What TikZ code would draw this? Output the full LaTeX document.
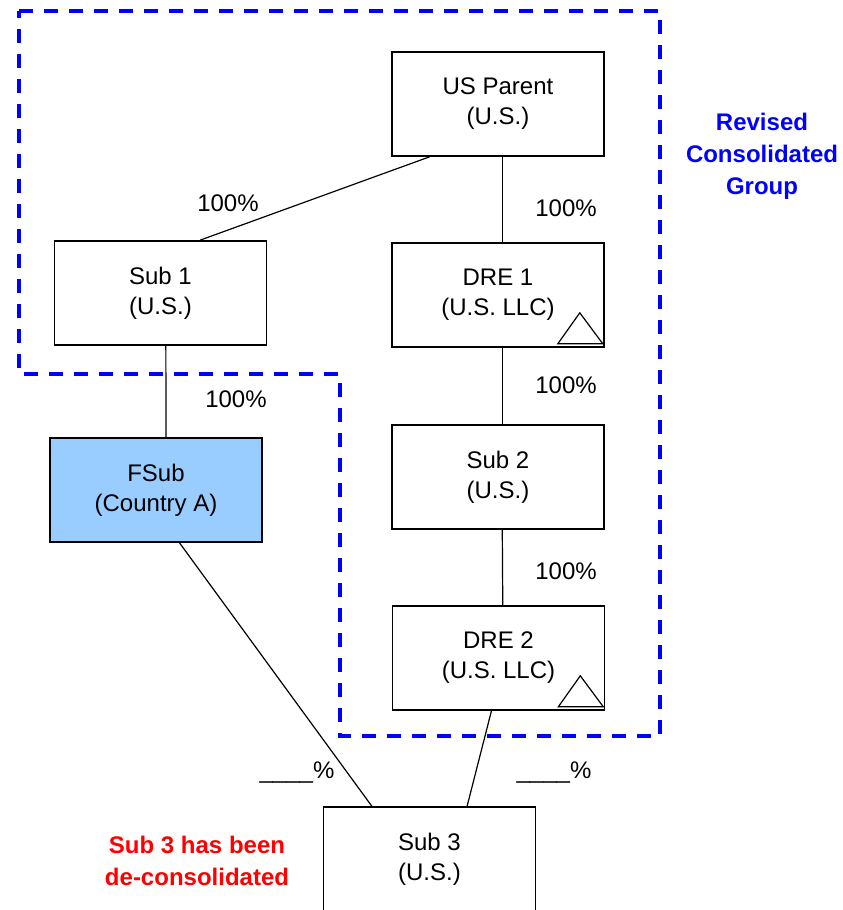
\documentclass[tikz,border=0pt]{standalone}
\usepackage{fontspec}
\setmainfont{Liberation Sans}
\usetikzlibrary{calc}
\definecolor{fsubblue}{HTML}{99CCFF}
\definecolor{grpblue}{HTML}{0000FF}
\definecolor{notered}{HTML}{FF0000}
\begin{document}
\begin{tikzpicture}[x=0.5pt,y=-0.5pt,
  entity/.style={draw,line width=0.8pt,fill=white,minimum width=106pt,minimum height=52pt,inner sep=0pt,align=center,font=\fontsize{12}{15}\selectfont},
  link/.style={line width=0.6pt},
  pct/.style={inner sep=0pt,font=\fontsize{12}{15}\selectfont},
  grpline/.style={draw=grpblue,line width=2pt,dash pattern=on 7pt off 5.5pt},
  grplabel/.style={align=center,text=grpblue,font=\bfseries\fontsize{12}{16}\selectfont},
  redlabel/.style={align=center,text=notered,font=\bfseries\fontsize{12}{16}\selectfont},
  flag/.style={draw,line width=0.6pt}]
\useasboundingbox (0,0) rectangle (842,910);
\clip (0,0) rectangle (842,910);
% consolidated group boundary
\draw[grpline] (19,11) -- (660,11) -- (660,736) -- (340,736) -- (340,374) -- (19,374) -- cycle;
% entities
\node[entity] (parent) at (498,104) {US Parent\\(U.S.)};
\node[entity] (dre1) at (498,295) {DRE 1\\(U.S. LLC)};
\node[entity] (sub2) at (498,477) {Sub 2\\(U.S.)};
\node[entity] (dre2) at (498.5,658) {DRE 2\\(U.S. LLC)};
\node[entity] (sub1) at (160.5,293) {Sub 1\\(U.S.)};
\node[entity,fill=fsubblue] (fsub) at (156,490) {FSub\\(Country A)};
\node[entity] (sub3) at (429.5,859) {Sub 3\\(U.S.)};
% triangles
\draw[flag] ($(dre1.south east)+(-2,-4)$) -- ($(dre1.south east)+(-47,-4)$) -- ($(dre1.south east)+(-25,-35)$) -- cycle;
\draw[flag] ($(dre2.south east)+(-2,-4)$) -- ($(dre2.south east)+(-47,-4)$) -- ($(dre2.south east)+(-25,-35)$) -- cycle;
% connectors
\draw[link] ($(parent.south west)!0.18!(parent.south east)$) -- ($(sub1.north west)!0.685!(sub1.north east)$);
\draw[link] ($(parent.south west)!0.52!(parent.south east)$) -- ($(dre1.north west)!0.52!(dre1.north east)$);
\draw[link] ($(dre1.south west)!0.52!(dre1.south east)$) -- ($(sub2.north west)!0.52!(sub2.north east)$);
\draw[link] ($(sub2.south west)!0.52!(sub2.south east)$) -- ($(dre2.north west)!0.52!(dre2.north east)$);
\draw[link] ($(sub1.south west)!0.525!(sub1.south east)$) -- ($(fsub.north west)!0.547!(fsub.north east)$);
\draw[link] ($(fsub.south west)!0.61!(fsub.south east)$) -- ($(sub3.north west)!0.23!(sub3.north east)$);
\draw[link] ($(dre2.south west)!0.467!(dre2.south east)$) -- ($(sub3.north west)!0.676!(sub3.north east)$);
% percentage labels
\node[pct] (p1) at (228,203) {100\%};
\node[pct] (p2) at (566,208) {100\%};
\node[pct] (p3) at (236,399) {100\%};
\node[pct] (p4) at (566,385) {100\%};
\node[pct] (p5) at (566,571) {100\%};
\node[pct] (p6) at (297,773) {\_\_\_\_\%};
\node[pct] (p7) at (554,773) {\_\_\_\_\%};
% notes
\node[grplabel] (grp) at (762,156) {Revised\\Consolidated\\Group};
\node[redlabel] (note) at (197,861) {Sub 3 has been\\de-consolidated};
\end{tikzpicture}
\end{document}
